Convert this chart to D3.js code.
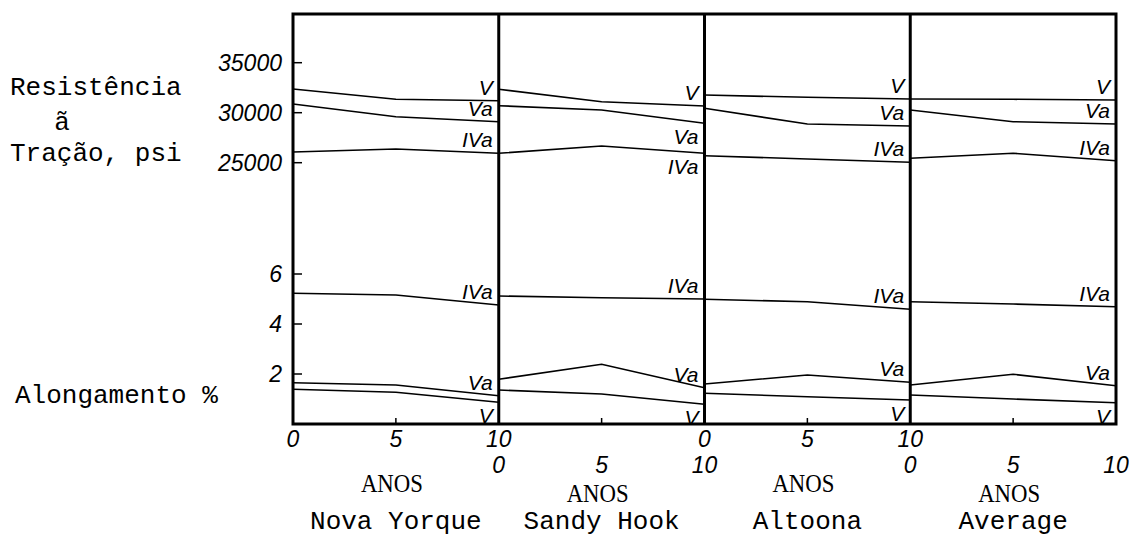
<!DOCTYPE html>
<html>
<head>
<meta charset="utf-8">
<script src="https://cdn.jsdelivr.net/npm/d3@7"></script>
<style>
  body { margin: 0; background: #fff; }
  svg { display: block; }
  .mono { font-family: 'Liberation Mono', 'DejaVu Sans Mono', monospace; font-size: 26px; }
  .tick-label { font-family: 'Liberation Sans', Arial, sans-serif; font-style: italic; font-size: 23px; }
  .series-label { font-family: 'Liberation Sans', Arial, sans-serif; font-style: italic; font-size: 21px; }
  .anos { font-family: 'Liberation Serif', 'DejaVu Serif', serif; font-size: 26px; }
</style>
</head>
<body>
<script>
// ---- data ----
const sites = ['Nova Yorque', 'Sandy Hook', 'Altoona', 'Average']
const years = [0, 5, 10]
const seriesNames = ['V', 'Va', 'IVa']

// tensile strength, psi : one row per site, values at 0, 5, 10 years
const tensileV = [[32370, 31340, 31200], [32340, 31100, 30670], [31770, 31540, 31370], [31370, 31340, 31270]]
const tensileVa = [[30870, 29600, 29100], [30700, 30270, 28940], [30440, 28870, 28670], [30270, 29100, 28870]]
const tensileIVa = [[26070, 26370, 25940], [25940, 26670, 25940], [25700, 25370, 25040], [25440, 25940, 25200]]

// elongation, %
const elongV = [[1.39, 1.27, 0.87], [1.36, 1.20, 0.79], [1.23, 1.09, 0.96], [1.16, 1.00, 0.85]]
const elongVa = [[1.65, 1.56, 1.13], [1.79, 2.39, 1.45], [1.60, 1.96, 1.67], [1.56, 1.99, 1.53]]
const elongIVa = [[5.23, 5.16, 4.76], [5.12, 5.05, 5.00], [4.99, 4.89, 4.59], [4.89, 4.80, 4.69]]

const tensileTicks = [25000, 30000, 35000]
const elongTicks = [2, 4, 6]
const yearTicks = [0, 5, 10]

// ---- layout ----
const W = 1129, H = 540
const frame = { left: 293, right: 1116, top: 14, bottom: 424 }

// which side of its line each series label sits, per panel (V, Va, IVa)
const tensileLabelSide = [
  ['above', 'above', 'above'],
  ['above', 'below', 'below'],
  ['above', 'above', 'above'],
  ['above', 'above', 'above'],
]
const elongLabelSide = sites.map(() => ['below', 'above', 'above'])

const svg = d3.select('body').append('svg')
  .attr('width', W)
  .attr('height', H)

const panelScale = d3.scaleBand()
  .domain(sites)
  .range([frame.left, frame.right])

const yTensile = d3.scaleLinear().domain([25000, 35000]).range([162.7, 62.7])
const yElong = d3.scaleLinear().domain([0, 6]).range([frame.bottom, 274])

const tensileRows = [tensileV, tensileVa, tensileIVa]
const elongRows = [elongV, elongVa, elongIVa]

/**
 * @param site {String}
 * @param i {Number}   panel index
 */
const drawPanel = (site, i) => {
  const x0 = panelScale(site)
  const x = d3.scaleLinear().domain([0, 10]).range([x0, x0 + panelScale.bandwidth()])
  const g = svg.append('g').classed('panel', true)

  const drawGroup = (rows, y, sides) => {
    rows.forEach((row, s) => {
      const values = row[i]
      const pts = years.map((yr, k) => [x(yr), y(values[k])])
      g.append('path')
        .attr('d', d3.line()(pts))
        .attr('fill', 'none')
        .attr('stroke', '#000')
        .attr('stroke-width', 1.6)

      const endY = y(values[values.length - 1])
      const side = sides[i][s]
      g.append('text')
        .classed('series-label', true)
        .attr('x', x(10) - 6)
        .attr('y', side === 'above' ? endY - 6 : endY + 21)
        .attr('text-anchor', 'end')
        .text(seriesNames[s])
    })
  }

  drawGroup(tensileRows, yTensile, tensileLabelSide)
  drawGroup(elongRows, yElong, elongLabelSide)

  // little tick at 5 years on the base line
  g.append('line')
    .attr('x1', x(5)).attr('x2', x(5))
    .attr('y1', frame.bottom).attr('y2', frame.bottom - 6)
    .attr('stroke', '#000')
    .attr('stroke-width', 1.5)

  // staggered year labels
  const lowRow = i % 2 === 1
  g.selectAll('.yr')
    .data(yearTicks)
    .join('text')
    .classed('tick-label', true)
    .attr('x', d => x(d))
    .attr('y', lowRow ? 473 : 447)
    .attr('text-anchor', 'middle')
    .attr('font-size', 21)
    .text(d => d)

  const mid = x0 + panelScale.bandwidth() / 2
  g.append('text')
    .classed('anos', true)
    .attr('x', mid - 4)
    .attr('y', lowRow ? 502 : 492)
    .attr('text-anchor', 'middle')
    .attr('textLength', 62)
    .attr('lengthAdjust', 'spacingAndGlyphs')
    .text('ANOS')

  g.append('text')
    .classed('mono', true)
    .attr('x', mid)
    .attr('y', 529)
    .attr('text-anchor', 'middle')
    .text(site)
}

sites.forEach(drawPanel)

// ---- frame and panel dividers ----
svg.append('rect')
  .attr('x', frame.left)
  .attr('y', frame.top)
  .attr('width', frame.right - frame.left)
  .attr('height', frame.bottom - frame.top)
  .attr('fill', 'none')
  .attr('stroke', '#000')
  .attr('stroke-width', 3)

svg.selectAll('.divider')
  .data(sites.slice(1))
  .join('line')
  .classed('divider', true)
  .attr('x1', d => panelScale(d))
  .attr('x2', d => panelScale(d))
  .attr('y1', frame.top)
  .attr('y2', frame.bottom)
  .attr('stroke', '#000')
  .attr('stroke-width', 3)

// ---- left axes ----
const leftAxis = (scale, ticks, fmt) => {
  const g = svg.append('g')
  g.selectAll('line')
    .data(ticks)
    .join('line')
    .attr('x1', frame.left)
    .attr('x2', frame.left + 9)
    .attr('y1', d => scale(d))
    .attr('y2', d => scale(d))
    .attr('stroke', '#000')
    .attr('stroke-width', 1.5)
  g.selectAll('text')
    .data(ticks)
    .join('text')
    .classed('tick-label', true)
    .attr('x', frame.left - 11)
    .attr('y', d => scale(d) + 8)
    .attr('text-anchor', 'end')
    .text(fmt)
}

leftAxis(yTensile, tensileTicks, d => d)
leftAxis(yElong, elongTicks, d => d)

// ---- axis titles ----
const titles = [
  { text: 'Resistência', x: 10, y: 95, anchor: 'start' },
  { text: 'ã', x: 62, y: 130, anchor: 'middle' },
  { text: 'Tração, psi', x: 10, y: 161, anchor: 'start' },
  { text: 'Alongamento %', x: 15, y: 403, anchor: 'start' },
]

svg.selectAll('.title')
  .data(titles)
  .join('text')
  .classed('title mono', true)
  .attr('x', d => d.x)
  .attr('y', d => d.y)
  .attr('text-anchor', d => d.anchor)
  .text(d => d.text)
</script>
</body>
</html>
